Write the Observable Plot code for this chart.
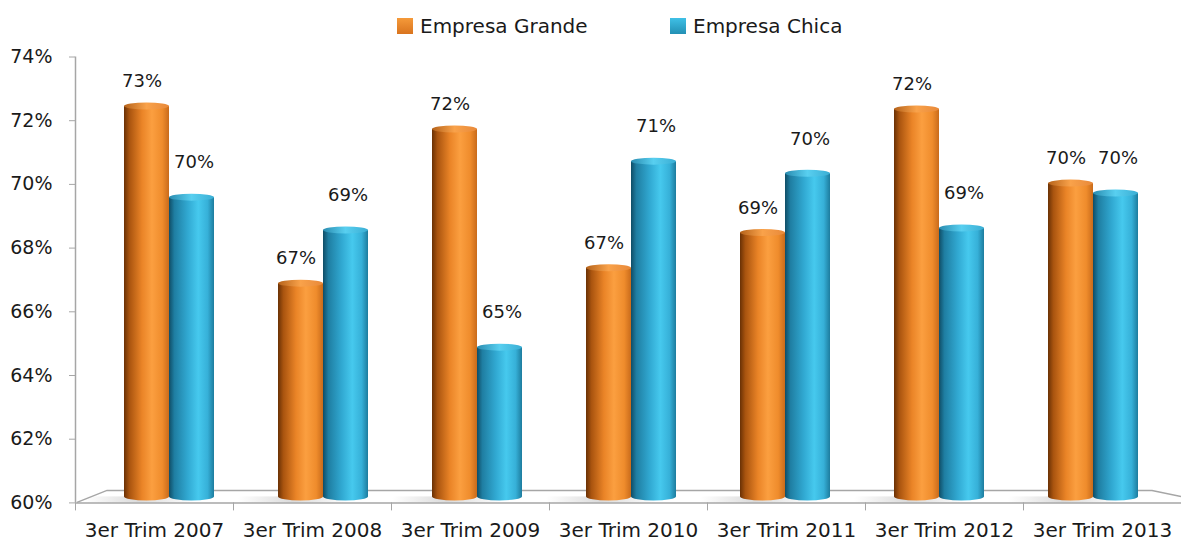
<!DOCTYPE html>
<html><head><meta charset="utf-8">
<script src="https://cdn.jsdelivr.net/npm/d3@7"></script>
<script src="https://cdn.jsdelivr.net/npm/@observablehq/plot@0.6"></script>
<style>
body{margin:0;background:#fff;font-family:"DejaVu Sans",sans-serif;}
#chart{position:relative;width:1181px;height:542px;overflow:hidden;background:#fff}
.item{position:absolute;top:15px;display:flex;align-items:center;font-size:20px;color:#1a1a1a;line-height:22px;white-space:nowrap}
.sw{width:16px;height:16px;margin-right:7px}
#layer1,#layer2{position:absolute;left:0;top:40px}
</style></head><body>
<div id="chart">
  <div class="item" style="left:397px"><div class="sw" style="background:linear-gradient(#f59a3a,#d9741e)"></div>Empresa Grande</div>
  <div class="item" style="left:670px"><div class="sw" style="background:linear-gradient(#3fc0e6,#2390b4)"></div>Empresa Chica</div>
  <div id="layer1"></div>
  <div id="layer2"></div>
</div>
<script>
const categories = ["3er Trim 2007","3er Trim 2008","3er Trim 2009","3er Trim 2010","3er Trim 2011","3er Trim 2012","3er Trim 2013"];
const seriesNames = ["Empresa Grande","Empresa Chica"];
const grande = [72.57, 67.01, 71.85, 67.49, 68.6, 72.48, 70.15];
const chica  = [69.71, 68.68, 65.0, 70.84, 70.46, 68.74, 69.84];
const yTicks = [60, 62, 64, 66, 68, 70, 72, 74];

const rowsG = categories.map((c, i) => ({cat: c, series: seriesNames[0], value: grande[i]}));
const rowsC = categories.map((c, i) => ({cat: c, series: seriesNames[1], value: chica[i]}));

const W = 1181, H = 502, MT = 16.5, MB = 39.6;
const TEXT = "#1a1a1a", AXIS = "#a6a6a6";

function defs() {
  const d = d3.create("svg:defs");
  const grad = (id, stops, vertical) => {
    const g = d.append("linearGradient").attr("id", id)
      .attr("x1", 0).attr("y1", 0).attr("x2", vertical ? 0 : 1).attr("y2", vertical ? 1 : 0);
    stops.forEach(([o, c]) => g.append("stop").attr("offset", o).attr("stop-color", c));
  };
  grad("gO", [[0, "#6a3105"], [0.12, "#a9540f"], [0.4, "#ea8427"], [0.62, "#fb9f40"], [0.85, "#ef8c2c"], [1, "#c96b1b"]]);
  grad("gC", [[0, "#0f4d66"], [0.12, "#1f7ea2"], [0.42, "#31a9d2"], [0.65, "#46c9ee"], [0.86, "#36b0d8"], [1, "#1d7c9e"]]);
  grad("gOcap", [[0, "#b5621a"], [0.5, "#f9a24a"], [1, "#e8893a"]]);
  grad("gCcap", [[0, "#2a8cb0"], [0.5, "#58cff0"], [1, "#3aaed4"]]);
  grad("gShade", [[0, "rgba(150,150,150,0)"], [0.5, "rgba(150,150,150,0.35)"], [1, "rgba(150,150,150,0)"]]);
  return d.node();
}

function floor(index, scales, values, dims) {
  const y0 = scales.y(60);
  const xL = dims.marginLeft, xR = dims.width - dims.marginRight;
  const g = d3.create("svg:g");
  g.append("path")
    .attr("d", `M${xL + 2},${y0} L${xL + 32},${y0 - 12} L${xR - 29},${y0 - 12} L${xR},${y0 - 6}`)
    .attr("fill", "none").attr("stroke", AXIS).attr("stroke-width", 1.5);
  return g.node();
}

const p1 = Plot.plot({
  width: W, height: H, marginTop: MT, marginBottom: MB, marginLeft: 75, marginRight: 0,
  style: {fontFamily: "DejaVu Sans", fontSize: "19px", color: TEXT, background: "transparent", overflow: "visible"},
  x: {type: "linear", domain: [0, categories.length], axis: null},
  y: {domain: [60, 74], axis: null},
  marks: [
    floor,
    Plot.ruleX([0], {y1: 60, y2: 74, stroke: AXIS, strokeWidth: 1.5}),
    Plot.ruleY([60], {stroke: AXIS, strokeWidth: 1.5}),
    Plot.axisY({ticks: yTicks, tickFormat: d => d + "%", tickSize: 6, tickPadding: 17, stroke: AXIS, fill: TEXT, fontSize: 19}),
    Plot.axisX({ticks: d3.range(0, categories.length), tickFormat: () => "", tickSize: 8, stroke: AXIS}),
    Plot.text(categories, {x: (d, i) => i + 0.5, y: () => 60, dy: 28, text: d => d, fontSize: 20, fill: TEXT})
  ]
});
document.getElementById("layer1").append(p1);

const half = 45;
function cylinder(rows, body, cap, side) {
  const lr = side === "L" ? {insetRight: half} : {insetLeft: half};
  return [
    Plot.barY(rows, {x: "cat", y1: () => 60, y2: () => 60, fill: body, ...lr, insetTop: -4, insetBottom: -4, rx: half / 2, ry: 4, dy: -6}),
    Plot.barY(rows, {x: "cat", y1: () => 60, y2: "value", fill: body, ...lr, dy: 4, insetBottom: 10}),
    Plot.barY(rows, {x: "cat", y1: "value", y2: "value", fill: cap, ...lr, insetTop: -3.5, insetBottom: -3.5, rx: half / 2, ry: 3.5, dy: 4})
  ];
}

const p2 = Plot.plot({
  width: W, height: H, marginTop: MT, marginBottom: MB, marginLeft: 92, marginRight: 11,
  style: {fontFamily: "DejaVu Sans", fontSize: "18px", color: TEXT, background: "transparent", overflow: "visible"},
  x: {type: "band", domain: categories, paddingInner: 1 - 2 * half / 154, paddingOuter: (1 - 2 * half / 154) / 2, axis: null},
  y: {domain: [60, 74], axis: null},
  marks: [
    defs,
    Plot.barY(rowsG, {x: "cat", y1: () => 60, y2: () => 60, fill: "url(#gShade)", insetLeft: -40, insetRight: 20, insetTop: -3, insetBottom: -3, dy: -3}),
    ...cylinder(rowsG, "url(#gO)", "url(#gOcap)", "L"),
    ...cylinder(rowsC, "url(#gC)", "url(#gCcap)", "R"),
    Plot.text(rowsG, {x: "cat", y: "value", text: d => Math.round(d.value) + "%", dx: -half / 2 - 5, dy: -21, fill: TEXT, fontSize: 18}),
    Plot.text(rowsC, {x: "cat", y: "value", text: d => Math.round(d.value) + "%", dx: half / 2 + 2, dy: -31, fill: TEXT, fontSize: 18})
  ]
});
document.getElementById("layer2").append(p2);
</script>
</body></html>
